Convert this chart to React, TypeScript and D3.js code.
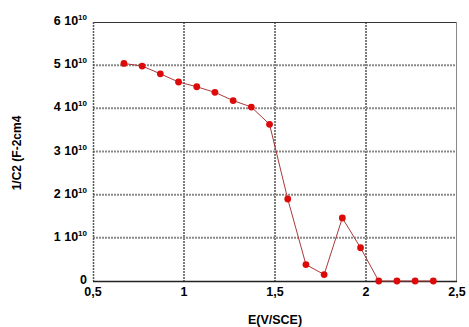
import React, { useEffect, useRef } from 'react';
import * as d3 from 'd3';

const potential = [0.67, 0.77, 0.87, 0.97, 1.07, 1.17, 1.27, 1.37, 1.47, 1.57, 1.67, 1.77, 1.87, 1.97, 2.07, 2.17, 2.27, 2.37];
// 1/C2 in units of 1e10
const invC2 = [5.04, 4.98, 4.8, 4.61, 4.5, 4.37, 4.18, 4.03, 3.63, 1.9, 0.38, 0.15, 1.46, 0.77, 0, 0, 0, 0];
const xTicks = [0.5, 1, 1.5, 2, 2.5];
const yTicks = [0, 1, 2, 3, 4, 5, 6];

function App() {
  const ref = useRef<SVGSVGElement>(null);

  useEffect(() => {
    const svg = d3.select(ref.current);
    svg.selectAll('*').remove();
    const margin = { top: 22, right: 12, bottom: 46, left: 93 },
      width = 469 - margin.left - margin.right,
      height = 327 - margin.top - margin.bottom;

    const x = d3.scaleLinear().domain([0.5, 2.5]).range([0, width]);
    const y = d3.scaleLinear().domain([0, 6]).range([height, 0]);
    const g = svg.append('g').attr('transform', `translate(${margin.left},${margin.top})`);
    const font = 'Liberation Sans, Arial, sans-serif';

    // grid
    g.selectAll('.vgrid').data(xTicks.slice(1, -1)).join('line')
      .attr('x1', d => x(d)).attr('x2', d => x(d)).attr('y1', 0).attr('y2', height)
      .attr('stroke', '#7c7c7c').attr('stroke-width', 2).attr('stroke-dasharray', '2,1');
    g.selectAll('.hgrid').data(yTicks.slice(1, -1)).join('line')
      .attr('y1', d => y(d)).attr('y2', d => y(d)).attr('x1', 0).attr('x2', width)
      .attr('stroke', '#8a8a8a').attr('stroke-width', 2).attr('stroke-dasharray', '2,1');

    // frame
    g.append('line').attr('x1', 0).attr('x2', width).attr('y1', 0.5).attr('y2', 0.5).attr('stroke', '#333');
    g.append('line').attr('x1', width - 0.5).attr('x2', width - 0.5).attr('y1', 0).attr('y2', height).attr('stroke', '#888');
    g.append('line').attr('x1', 0.5).attr('x2', 0.5).attr('y1', 0).attr('y2', height)
      .attr('stroke', '#555').attr('stroke-width', 1.5).attr('stroke-dasharray', '2,1');
    g.append('line').attr('x1', 0).attr('x2', width).attr('y1', height + 0.5).attr('y2', height + 0.5)
      .attr('stroke', '#222').attr('stroke-width', 1.5);

    // x tick labels
    g.selectAll('.xt').data(xTicks).join('text')
      .attr('x', d => x(d)).attr('y', height + 15)
      .attr('text-anchor', 'middle')
      .style('font-family', font).style('font-weight', 'bold').style('font-size', '12.5px')
      .text(d => String(d).replace('.', ','));

    // y tick labels
    const yt = g.selectAll('.yt').data(yTicks).join('text')
      .attr('x', -6).attr('y', d => y(d) + 3)
      .attr('text-anchor', 'end')
      .style('font-family', font).style('font-weight', 'bold').style('font-size', '12.5px');
    yt.each(function (d) {
      const t = d3.select(this);
      if (d === 0) { t.text('0'); return; }
      t.append('tspan').text(d + ' 10');
      t.append('tspan').attr('dy', -5).style('font-size', '8px').text('10');
    });

    // axis titles
    svg.append('text')
      .attr('x', margin.left + x(1.5)).attr('y', 324)
      .attr('text-anchor', 'middle')
      .style('font-family', font).style('font-weight', 'bold').style('font-size', '12.5px')
      .text('E(V/SCE)');
    svg.append('text')
      .attr('transform', 'translate(21,153) rotate(-90)')
      .attr('text-anchor', 'middle')
      .style('font-family', font).style('font-weight', 'bold').style('font-size', '12px')
      .text('1/C2 (F-2cm4');

    // series
    const pts = potential.map((p, i) => [p, invC2[i]] as [number, number]);
    const line = d3.line<[number, number]>().x(d => x(d[0])).y(d => y(d[1]));
    g.append('path').datum(pts).attr('d', line)
      .attr('fill', 'none').attr('stroke', '#a83a3a').attr('stroke-width', 1);
    g.selectAll('circle').data(pts).join('circle')
      .attr('cx', d => x(d[0])).attr('cy', d => y(d[1])).attr('r', 3.4)
      .attr('fill', '#dd0a0a');
  }, []);

  return (
    <svg ref={ref} width={469} height={327} style={{ position: 'absolute', left: 0, top: 0, background: '#fff' }} />
  );
}

export default App;
